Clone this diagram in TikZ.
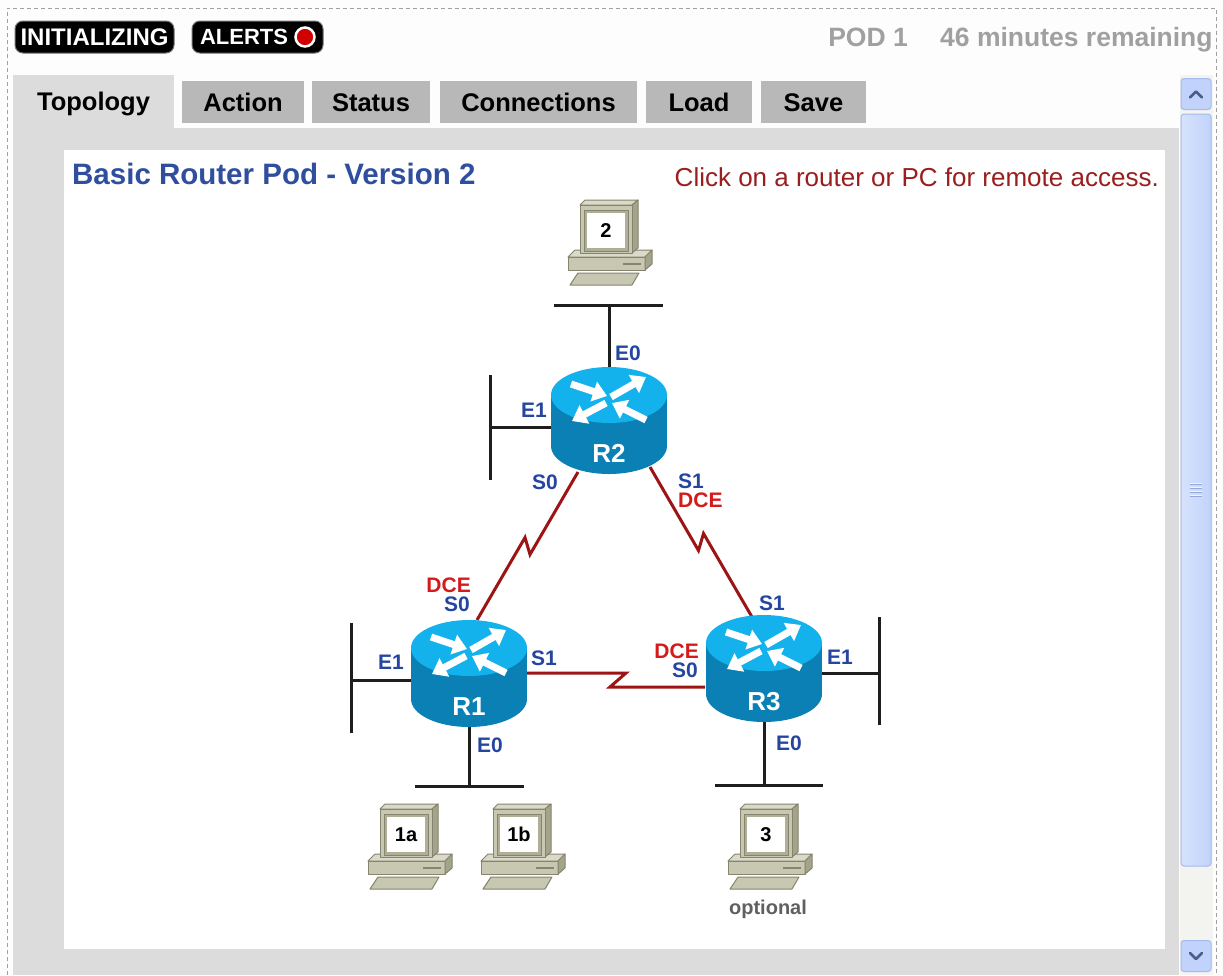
\documentclass[tikz,border=0pt]{standalone}
\usepackage{fontspec}
\setmainfont{Liberation Sans}
\usetikzlibrary{arrows.meta,calc}

\newcommand{\pxfont}[1]{\fontsize{#1pt}{#1pt}\selectfont}

\definecolor{pagebg}{HTML}{FDFDFD}
\definecolor{pageedge}{HTML}{A0A0A0}
\definecolor{panelgray}{HTML}{DCDCDC}
\definecolor{tabgray}{HTML}{B8B8B8}
\definecolor{podgray}{HTML}{A0A0A0}
\definecolor{badgeedge}{HTML}{707070}
\definecolor{alertred}{HTML}{D00000}
\definecolor{titleblue}{HTML}{2F4E9E}
\definecolor{clickred}{HTML}{9A1E1E}
\definecolor{ifblue}{HTML}{2446A0}
\definecolor{dcered}{HTML}{D41A1A}
\definecolor{serialred}{HTML}{9C1414}
\definecolor{lanblack}{HTML}{1E1E1E}
\definecolor{routertop}{HTML}{14B2EC}
\definecolor{routerside}{HTML}{0A80B4}
\definecolor{pcfront}{HTML}{C8C8B2}
\definecolor{pctop}{HTML}{DADACB}
\definecolor{pcside}{HTML}{A4A48C}
\definecolor{pcline}{HTML}{85856D}
\definecolor{optgray}{HTML}{606060}
\definecolor{sbfill}{HTML}{C2D3FB}
\definecolor{sblight}{HTML}{D6E2FD}
\definecolor{sbedge}{HTML}{A6BAEE}
\definecolor{sbarrow}{HTML}{4A5E8C}
\definecolor{sbtrack}{HTML}{F3F3EF}
\definecolor{sbgrip}{HTML}{EEF3FF}

\tikzset{
  % Cisco-style router: cylinder with four white arrows on its top face
  router/.pic={
    \fill[routerside] (-58,0) rectangle (58,51);
    \fill[routerside] (0,51) ellipse [x radius=58pt, y radius=28pt];
    \fill[routertop] (0,0) ellipse [x radius=58pt, y radius=28pt];
    \draw[rarrow] (-38,-11) -- (-2,1);
    \draw[rarrow] (2,2) -- (37,-18);
    \draw[rarrow] (-3,8) -- (-37,26);
    \draw[rarrow] (37,25) -- (3,8);
    \coordinate (-c) at (0,0);
    \coordinate (-n) at (0,-28);
    \coordinate (-s) at (0,79);
    \coordinate (-w) at (-58,32);
    \coordinate (-e) at (58,30);
    \node[rname] (-name) at (0,58) {#1};
  },
  % workstation: base unit, monitor and keyboard
  pc/.pic={
    \filldraw[pcpart, fill=pctop] (-39,25) -- (-32,18) -- (45,18) -- (38,25) -- cycle;
    \filldraw[pcpart, fill=pcfront] (-39,25) rectangle (38,38);
    \filldraw[pcpart, fill=pcside] (38,25) -- (45,18) -- (45,32) -- (38,38) -- cycle;
    \draw[pcline, line width=2pt] (16,32) -- (34,32);
    \filldraw[pcpart, fill=pctop] (-27,-27) -- (-22,-32) -- (31,-32) -- (25,-27) -- cycle;
    \filldraw[pcpart, fill=pcside] (25,-27) -- (31,-32) -- (31,16) -- (25,21) -- cycle;
    \filldraw[pcpart, fill=pcfront] (-27,-27) rectangle (25,21);
    \filldraw[pcpart, fill=pcside!70!pcfront] (-23,-22) rectangle (21,19);
    \fill[white] (-20,-19) rectangle (18,16);
    \filldraw[pcpart, fill=pcfront] (-29,41) -- (32,41) -- (25,53) -- (-37,53) -- cycle;
    \node[pcl] (-name) at (-1,-1.5) {#1};
  },
}

\begin{document}
\begin{tikzpicture}[x=1pt, y=-1pt,
  lan/.style={draw=lanblack, line width=3pt},
  serial/.style={draw=serialred, line width=3pt, line join=miter},
  ifl/.style={font=\pxfont{21}\bfseries, text=ifblue, inner sep=0pt, text height=15pt, text depth=0pt},
  dcel/.style={ifl, text=dcered},
  rname/.style={font=\pxfont{26}\bfseries, text=white, inner sep=0pt, text height=18.6pt, text depth=0pt},
  rarrow/.style={draw=white, line width=7pt, -{Triangle[length=14pt,width=20pt]}},
  pcpart/.style={draw=pcline, line width=1pt, line join=round},
  pcl/.style={font=\pxfont{20}\bfseries, text=black, inner sep=0pt, text height=14.4pt, text depth=0pt},
  badge/.style={rectangle, fill=black, draw=badgeedge, line width=1pt, rounded corners=8pt,
    inner sep=0pt, minimum height=32pt},
  badgetext/.style={text=white, inner sep=0pt, text height=17pt, text depth=0pt, font=\pxfont{24}\bfseries},
  podtext/.style={text=podgray, inner sep=0pt, text height=18.9pt, text depth=0pt, font=\pxfont{26.5}\bfseries},
  tabbox/.style={rectangle, fill=tabgray, inner sep=0pt, minimum height=42pt,
    text height=18.3pt, text depth=0pt, font=\pxfont{25.5}\bfseries},
  sbbtn/.style={rectangle, rounded corners=3pt, fill=sbfill, draw=sbedge, line width=1pt,
    minimum width=30pt, minimum height=31pt, inner sep=0pt},
  sbchev/.style={draw=sbarrow, line width=2.6pt, line cap=round, line join=round},
]
\useasboundingbox (0,0) rectangle (1223,975);
\fill[pagebg] (0,0) rectangle (1223,975);
\draw[pageedge, line width=1pt, dash pattern=on 4pt off 3pt] (7.5,975) -- (7.5,8) -- (1216,8) -- (1216,975);

% status bar
\node[badge, minimum width=159pt] (initbadge) at (94.5,37) {};
\node[badgetext] (inittext) at (initbadge.center) {INITIALIZING};
\node[badge, minimum width=131pt] (alertbadge) at (257.5,37) {};
\node[badgetext, font=\pxfont{22}\bfseries, text height=15.8pt] (alerttext) at (244,37) {ALERTS};
\node[circle, fill=alertred, draw=white, line width=2.5pt, minimum size=19pt, inner sep=0pt] (alertdot) at (305,37) {};
\node[podtext, anchor=east] (pod) at (908,37) {POD 1};
\node[podtext, anchor=west] (timeleft) at (940,37) {46 minutes remaining};

% tab panel
\fill[panelgray] (13,128) rectangle (1179,975);
\node[tabbox, fill=panelgray, minimum width=161pt, minimum height=53pt] (tabTopology) at (93.5,101.5) {Topology};
\node[tabbox, minimum width=122pt] (tabAction) at (243,102) {Action};
\node[tabbox, minimum width=118pt] (tabStatus) at (371,102) {Status};
\node[tabbox, minimum width=197pt] (tabConnections) at (538.5,102) {Connections};
\node[tabbox, minimum width=106pt] (tabLoad) at (699,102) {Load};
\node[tabbox, minimum width=105pt] (tabSave) at (813.5,102) {Save};
\fill[white] (64,150) rectangle (1165,949);

% scroll bar
\fill[sbtrack] (1180,75) rectangle (1213,975);
\node[sbbtn] (sbup) at (1196,94) {};
\draw[sbchev] ($(sbup.center)+(-6,3.5)$) -- ($(sbup.center)+(0,-2.5)$) -- ($(sbup.center)+(6,3.5)$);
\node[sbbtn, minimum height=752pt, left color=sblight, right color=sbfill] (sbthumb) at (1196,490) {};
\foreach \dy in {-6,-2,2,6}
  \draw[sbgrip, line width=1.3pt] ($(sbthumb.center)+(-6,\dy)$) -- ++(12,0);
\foreach \dy in {-4,0,4,8}
  \draw[sbedge!80!sbarrow, line width=0.8pt] ($(sbthumb.center)+(-6,\dy-1.6)$) -- ++(12,0);
\node[sbbtn] (sbdown) at (1196,956) {};
\draw[sbchev] ($(sbdown.center)+(-6,-3)$) -- ($(sbdown.center)+(0,3)$) -- ($(sbdown.center)+(6,-3)$);

% captions
\node[anchor=west, font=\pxfont{29.5}\bfseries, text=titleblue, inner sep=0pt, text height=21pt, text depth=0pt]
  (title) at (72,174) {Basic Router Pod - Version 2};
\node[anchor=east, font=\pxfont{26}, text=clickred, inner sep=0pt, text height=18.6pt, text depth=0pt]
  (hint) at (1159,177) {Click on a router or PC for remote access.};

% router anchor points
\coordinate (R2c) at (609,395);
\coordinate (R1c) at (469,648);
\coordinate (R3c) at (764,643);
\coordinate (R2s0) at ($(R2c)+(-31,77)$);
\coordinate (R2s1) at ($(R2c)+(41,72)$);
\coordinate (R1s0) at ($(R1c)+(8,-28)$);
\coordinate (R1s1) at ($(R1c)+(58,25)$);
\coordinate (R3s1) at ($(R3c)+(-12,-26)$);
\coordinate (R3s0) at ($(R3c)+(-59,44)$);

% Ethernet segments
\coordinate (lan2top-w) at (554,305);  \coordinate (lan2top-e) at (663,305);
\coordinate (lan2side-n) at (490,375); \coordinate (lan2side-s) at (490,480);
\coordinate (lan1side-n) at (351,623); \coordinate (lan1side-s) at (351,733);
\coordinate (lan1bot-w) at (415,786);  \coordinate (lan1bot-e) at (524,786);
\coordinate (lan3side-n) at (879,617); \coordinate (lan3side-s) at (879,725);
\coordinate (lan3bot-w) at (715,785);  \coordinate (lan3bot-e) at (823,785);
\draw[lan] (lan2top-w) -- (lan2top-e);
\draw[lan] (lan2side-n) -- (lan2side-s);
\draw[lan] (lan1side-n) -- (lan1side-s);
\draw[lan] (lan1bot-w) -- (lan1bot-e);
\draw[lan] (lan3side-n) -- (lan3side-s);
\draw[lan] (lan3bot-w) -- (lan3bot-e);

% serial links
\draw[serial] (R2s0) -- ($(R2s0)!0.5!(R1s0)+(2.5,8.5)$) -- ($(R2s0)!0.5!(R1s0)+(-2.5,-8.5)$) -- (R1s0);
\draw[serial] (R2s1) -- ($(R2s1)!0.5!(R3s1)+(-2.5,8.5)$) -- ($(R2s1)!0.5!(R3s1)+(2.5,-8.5)$) -- (R3s1);
\draw[serial] (R1s1) -- ($(R1s1)!0.5!(R3s0)+(10,-7)$) -- ($(R1s1)!0.5!(R3s0)+(-6,7)$) -- (R3s0);

% routers
\pic (R2) at (R2c) {router=R2};
\pic (R1) at (R1c) {router=R1};
\pic (R3) at (R3c) {router=R3};

% router to LAN drops
\draw[lan] (R2-n) -- (R2-n |- lan2top-w);
\draw[lan] (R2-w) -- (R2-w -| lan2side-n);
\draw[lan] (R1-w) -- (R1-w -| lan1side-n);
\draw[lan] (R1-s) -- (R1-s |- lan1bot-w);
\draw[lan] (R3-e) -- (R3-e -| lan3side-n);
\draw[lan] (R3-s) -- (R3-s |- lan3bot-w);

% workstations
\pic (PC2) at (607,232) {pc=2};
\pic (PC1a) at (407,836) {pc=1a};
\pic (PC1b) at (520,836) {pc=1b};
\pic (PC3) at (767,836) {pc=3};
\node[anchor=base, font=\pxfont{20}\bfseries, text=optgray, inner sep=0pt] (optional) at (768,914) {optional};

% interface labels
\node[ifl] (R2E0) at (628,353) {E0};
\node[ifl] (R2E1) at (534,410) {E1};
\node[ifl] (R2S0) at (545,482) {S0};
\node[ifl, anchor=west] (R2S1) at (678,481) {S1};
\node[dcel, anchor=west] (R2DCE) at (678,500) {DCE};
\node[dcel, anchor=east] (R1DCE) at (471,585) {DCE};
\node[ifl, anchor=east] (R1S0) at (470,604) {S0};
\node[ifl] (R1E1) at (391,662) {E1};
\node[ifl] (R1S1) at (544,658) {S1};
\node[ifl] (R1E0) at (490,745) {E0};
\node[ifl] (R3S1) at (772,603) {S1};
\node[dcel, anchor=east] (R3DCE) at (699,651) {DCE};
\node[ifl, anchor=east] (R3S0) at (698,670) {S0};
\node[ifl] (R3E1) at (840,657) {E1};
\node[ifl] (R3E0) at (789,743) {E0};
\end{tikzpicture}
\end{document}
